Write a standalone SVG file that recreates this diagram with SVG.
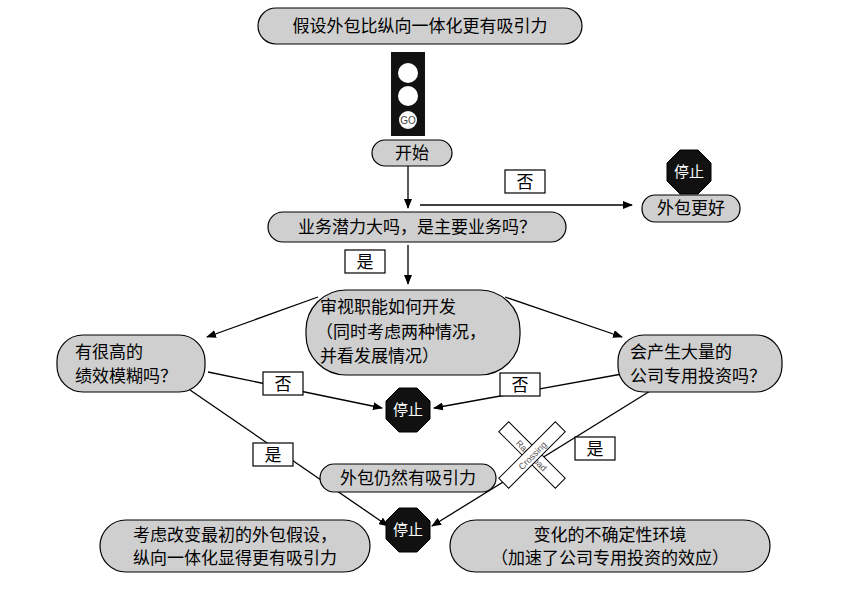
<svg xmlns="http://www.w3.org/2000/svg" width="843" height="601" viewBox="0 0 843 601">
<style>
.p{fill:#cfcfcf;stroke:#000;stroke-width:1.2}
.b{fill:#fff;stroke:#000;stroke-width:1.2}
.t{font-family:"Noto Sans CJK SC",sans-serif;font-size:17px;fill:#000}
.st{font-family:"Noto Sans CJK SC",sans-serif;font-size:15px;fill:#fff;text-anchor:middle}
.c line{stroke:#000;stroke-width:1.3;marker-end:url(#a)}
</style>
<defs>
<marker id="a" markerWidth="10" markerHeight="8" refX="9" refY="4" orient="auto" markerUnits="userSpaceOnUse"><path d="M0,0L10,4L0,8z"/></marker>
<polygon id="oct" points="-9,-22 9,-22 22,-9 22,9 9,22 -9,22 -22,9 -22,-9" fill="#111" stroke="#000"/>
</defs>
<rect x="0" y="0" width="843" height="601" fill="#fff"/>
<g class="c">
<line x1="408" y1="166" x2="408" y2="208"/>
<line x1="420" y1="205" x2="632" y2="205"/>
<line x1="408" y1="245" x2="408" y2="284"/>
<line x1="318" y1="297" x2="207" y2="337"/>
<line x1="505" y1="297" x2="622" y2="337"/>
<line x1="208" y1="372" x2="382" y2="408"/>
<line x1="622" y1="374" x2="434" y2="408"/>
<line x1="190" y1="390" x2="388" y2="526"/>
<line x1="655" y1="388" x2="432" y2="526"/>
</g>
<g id="top"><rect class="p" x="258" y="8" width="324" height="36" rx="18"/><text class="t" x="420" y="32" text-anchor="middle">假设外包比纵向一体化更有吸引力</text></g>
<g id="light"><rect x="391" y="52" width="34" height="84" fill="#111"/><circle cx="408" cy="73" r="10" fill="#fff"/><circle cx="408" cy="96" r="10" fill="#fff"/><circle cx="408" cy="120" r="9" fill="#fff"/><text x="408" y="124" font-family="Liberation Sans,sans-serif" font-size="10" text-anchor="middle" fill="#444">GO</text></g>
<g id="start"><rect class="p" x="372" y="140" width="80" height="26" rx="13"/><text class="t" x="412" y="159" text-anchor="middle">开始</text></g>
<g id="no1"><rect class="b" x="505" y="170" width="40" height="23"/><text class="t" x="525" y="188" text-anchor="middle">否</text></g>
<g id="stop1"><use href="#oct" x="689" y="172"/><text class="st" x="689" y="177">停止</text></g>
<g id="better"><rect class="p" x="642" y="195" width="98" height="27" rx="13"/><text class="t" x="691" y="214" text-anchor="middle">外包更好</text></g>
<g id="q1"><rect class="p" x="268" y="212" width="298" height="30" rx="15"/><text class="t" x="417" y="233" text-anchor="middle">业务潜力大吗，是主要业务吗？</text></g>
<g id="yes1"><rect class="b" x="345" y="250" width="40" height="23"/><text class="t" x="365" y="268" text-anchor="middle">是</text></g>
<g id="review"><rect class="p" x="306" y="290" width="214" height="85" rx="40"/><text class="t" x="320" y="313">审视职能如何开发</text><text class="t" x="316" y="338">（同时考虑两种情况，</text><text class="t" x="320" y="362">并看发展情况）</text></g>
<g id="q2"><rect class="p" x="57" y="335" width="148" height="57" rx="26"/><text class="t" x="75" y="358">有很高的</text><text class="t" x="75" y="382">绩效模糊吗？</text></g>
<g id="q3"><rect class="p" x="618" y="335" width="164" height="57" rx="26"/><text class="t" x="630" y="358">会产生大量的</text><text class="t" x="630" y="382">公司专用投资吗？</text></g>
<g id="no2"><rect class="b" x="263" y="372" width="40" height="23"/><text class="t" x="283" y="390" text-anchor="middle">否</text></g>
<g id="no3"><rect class="b" x="500" y="373" width="40" height="23"/><text class="t" x="520" y="391" text-anchor="middle">否</text></g>
<g id="stop2"><use href="#oct" x="408" y="410"/><text class="st" x="408" y="415">停止</text></g>
<g id="yes2"><rect class="b" x="253" y="443" width="40" height="23"/><text class="t" x="273" y="461" text-anchor="middle">是</text></g>
<g id="yes3"><rect class="b" x="575" y="437" width="40" height="23"/><text class="t" x="595" y="455" text-anchor="middle">是</text></g>
<g id="rail" transform="translate(532,455)">
<g transform="rotate(45)"><rect x="-40" y="-7" width="80" height="14" fill="#fff" stroke="#000"/><text x="0" y="4" font-family="Liberation Sans,sans-serif" font-size="9" text-anchor="middle" fill="#555">Rail    Road</text></g>
<g transform="rotate(-45)"><rect x="-40" y="-7" width="80" height="14" fill="#fff" stroke="#000"/><text x="0" y="4" font-family="Liberation Sans,sans-serif" font-size="9" text-anchor="middle" fill="#555">Crossing</text></g>
</g>
<g id="still"><rect class="p" x="320" y="464" width="176" height="28" rx="14"/><text class="t" x="408" y="484" text-anchor="middle">外包仍然有吸引力</text></g>
<g id="stop3"><use href="#oct" x="408" y="530"/><text class="st" x="408" y="535">停止</text></g>
<g id="change"><rect class="p" x="100" y="520" width="270" height="52" rx="26"/><text class="t" x="235" y="541" text-anchor="middle">考虑改变最初的外包假设，</text><text class="t" x="235" y="564" text-anchor="middle">纵向一体化显得更有吸引力</text></g>
<g id="env"><rect class="p" x="450" y="520" width="320" height="52" rx="26"/><text class="t" x="610" y="541" text-anchor="middle">变化的不确定性环境</text><text class="t" x="610" y="564" text-anchor="middle">（加速了公司专用投资的效应）</text></g>
</svg>
